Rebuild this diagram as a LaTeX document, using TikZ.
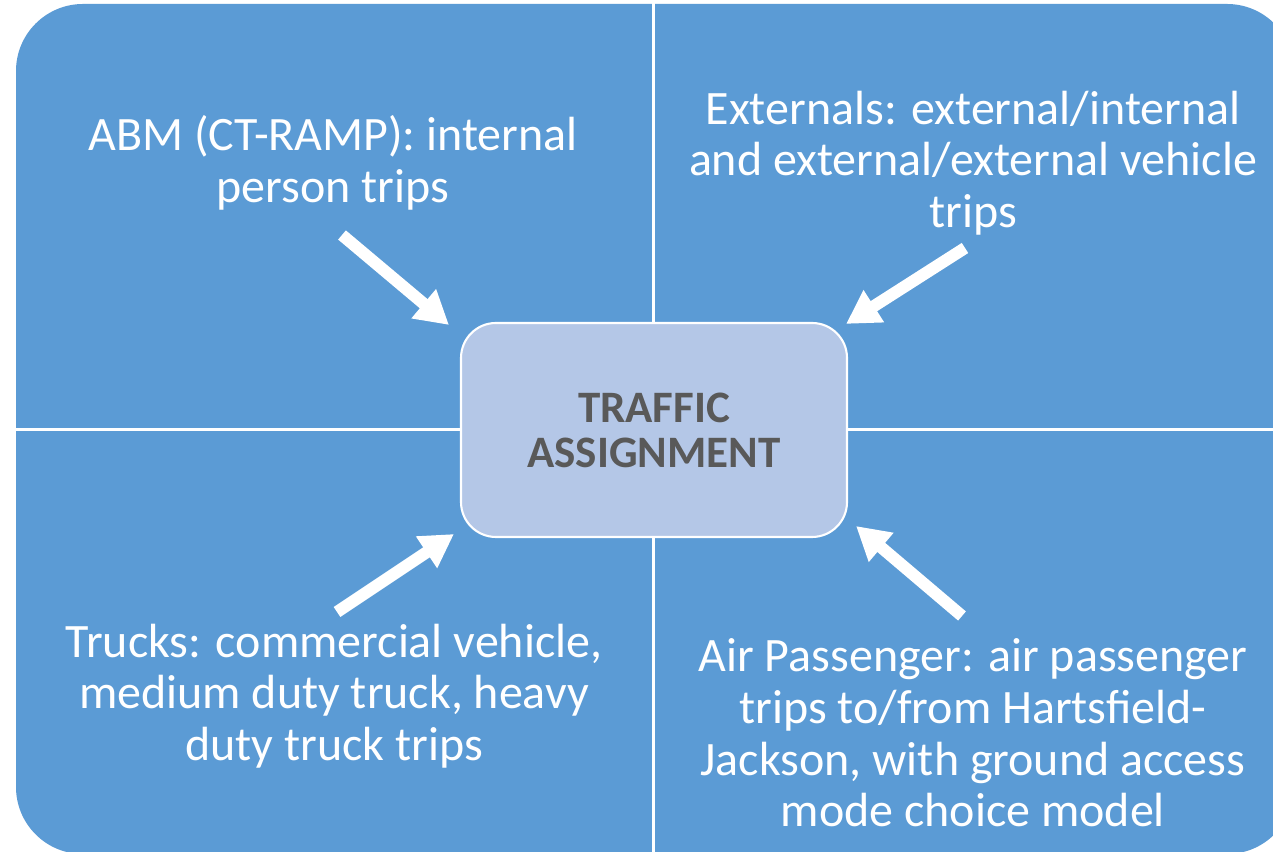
\documentclass[tikz,border=0pt]{standalone}
\usepackage{fontspec}
\setmainfont{Carlito}
\usetikzlibrary{arrows.meta}
\definecolor{panelblue}{HTML}{5B9BD5}
\definecolor{boxblue}{HTML}{B4C7E7}
\definecolor{titlegray}{HTML}{595959}
\tikzset{
  tripstext/.style={white,align=center,inner sep=0pt,font=\fontsize{27.3}{29.4}\selectfont},
  assignbox/.style={draw=white,line width=1.2pt,fill=boxblue,rounded corners=0.7cm,
    minimum width=7.72cm,minimum height=4.28cm,align=center,text=titlegray,
    font=\fontsize{25.6}{25.6}\selectfont\bfseries},
  feedarrow/.style={white,line width=0.24cm,-{Triangle[width=0.72cm,length=0.66cm]}}
}

\begin{document}
\begin{tikzpicture}
    \clip (0,0) rectangle (25.46,17.04);
    \fill[white] (0,0) rectangle (25.46,17.04);

    % four panels, rounded on the outside only
    \fill[panelblue,rounded corners=1.34cm] (0.32,-0.04) rectangle (25.88,16.96);
    \draw[white,line width=0.06cm] (13.06,-0.1) -- (13.06,17.1);
    \draw[white,line width=0.06cm] (0,8.44) -- (25.9,8.44);

    \node[assignbox] (ASSIGN) at (13.08,8.44) {TRAFFIC\\ASSIGNMENT};

    \node[tripstext] (ABM) at (6.66,13.78) {ABM (CT-RAMP): internal\\person trips};
    \node[tripstext] (EXT) at (19.46,13.78) {Externals: external/internal\\and external/external vehicle\\trips};
    \node[tripstext] (TRUCK) at (6.68,3.12) {Trucks: commercial vehicle,\\medium duty truck, heavy\\duty truck trips};
    \node[tripstext] (AIR) at (19.46,2.38) {Air Passenger: air passenger\\trips to/from Hartsfield-\\Jackson, with ground access\\mode choice model};

    % arrow tails
    \coordinate (ABMTAIL) at (6.84,12.34);
    \coordinate (EXTTAIL) at (19.3,12.08);
    \coordinate (TRUCKTAIL) at (6.74,4.8);
    \coordinate (AIRTAIL) at (19.24,4.72);

    \draw[feedarrow] (ABMTAIL) -- ([xshift=-0.22cm,yshift=-0.06cm] ASSIGN.north west);
    \draw[feedarrow] (EXTTAIL) -- ([xshift=-0.04cm,yshift=-0.04cm] ASSIGN.north east);
    \draw[feedarrow] (TRUCKTAIL) -- ([xshift=-0.12cm,yshift=0.08cm] ASSIGN.south west);
    \draw[feedarrow] (AIRTAIL) -- ([xshift=0.16cm,yshift=0.24cm] ASSIGN.south east);
  \end{tikzpicture}
\end{document}
